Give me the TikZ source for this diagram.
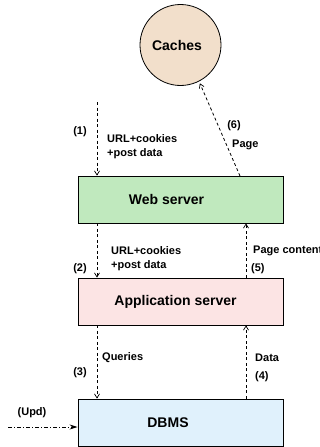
\documentclass[tikz,border=0pt]{standalone}
\usepackage{fontspec}
\setmainfont{Liberation Sans}
\usepackage{tikz}
\usetikzlibrary{arrows.meta,positioning}
\definecolor{cachefill}{HTML}{F2DFCB}
\definecolor{webfill}{HTML}{C0E9BE}
\definecolor{appfill}{HTML}{FCE4E4}
\definecolor{dbfill}{HTML}{E0F1FC}
\tikzset{
  box/.style={draw=black, line width=0.9pt, rectangle, minimum width=205pt, minimum height=47pt, inner sep=0pt},
  cache/.style={draw=black, line width=0.8pt, circle, fill=cachefill, minimum size=81pt, inner sep=0pt},
  boxlab/.style={font=\bfseries\fontsize{14}{16}\selectfont},
  flow/.style={line width=0.8pt, dash pattern=on 3pt off 2.5pt, -{Straight Barb[length=4pt,width=5pt,line width=0.7pt]}},
  upd/.style={line width=0.8pt, dash pattern=on 4pt off 2pt on 1pt off 2pt, -{Stealth[length=8pt,width=5pt]}},
  lab/.style={font=\bfseries\fontsize{11}{14.5}\selectfont, inner sep=0pt},
}
\begin{document}
\begin{tikzpicture}[x=1pt,y=-1pt]
  \useasboundingbox (0,0) rectangle (320,447);
  % tiers
  \node[cache, label={[boxlab,xshift=-3.5pt]center:Caches}] (caches) at (180.5,45) {};
  \node[box, fill=webfill, label={[boxlab,xshift=-14pt]center:Web server}] (web) at (180.5,199.5) {};
  \node[box, fill=appfill, label={[boxlab,xshift=-5pt]center:Application server}] (app) at (180.5,301.5) {};
  \node[box, fill=dbfill, label={[boxlab,xshift=-12.5pt]center:DBMS}] (dbms) at (180.5,422.5) {};
  % request path (left)
  \coordinate (req) at (97,102);
  \coordinate (cli) at (8,427);
  \draw[flow] (req) -- (req |- web.north);
  \draw[flow] (req |- web.south) -- (req |- app.north);
  \draw[flow] (req |- app.south) -- (req |- dbms.north);
  % answer path (right)
  \coordinate (ans) at (246,0);
  \draw[flow] (ans |- dbms.north) -- (ans |- app.south);
  \draw[flow] (ans |- app.north) -- (ans |- web.south);
  \draw[flow, shorten >=2pt] (240,176) -- (caches.-63);
  \draw[upd] (cli) -- (cli -| dbms.west);
  % labels
  \node[lab] (n1) at (80,132) {(1)};
  \node[lab, anchor=west, align=left] (l1) at (107,146.5) {URL+cookies\\+post data};
  \node[lab] (n6) at (234,126) {(6)};
  \node[lab, anchor=west] (l6) at (232,145) {Page};
  \node[lab, anchor=west, align=left] (l2) at (111,258.5) {URL+cookies\\+post data};
  \node[lab] (n2) at (80,269) {(2)};
  \node[lab, anchor=west] (l5) at (253,251) {Page content};
  \node[lab, anchor=west] (n5) at (251,269) {(5)};
  \node[lab, anchor=west] (l3) at (102,358) {Queries};
  \node[lab] (n3) at (80,373) {(3)};
  \node[lab, anchor=west] (l4) at (255,358) {Data};
  \node[lab, anchor=west] (n4) at (255,377) {(4)};
  \node[lab] (lu) at (32,413) {(Upd)};
\end{tikzpicture}
\end{document}
